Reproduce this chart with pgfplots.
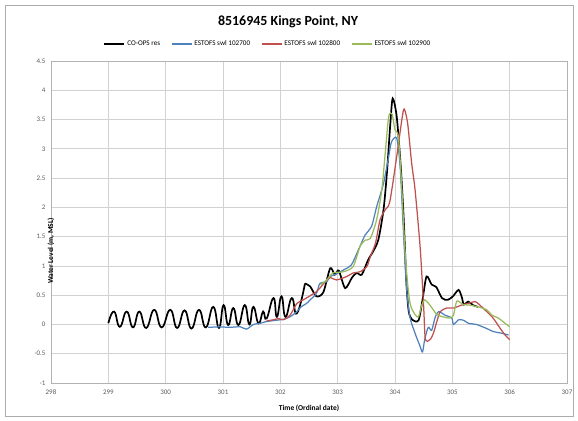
\documentclass[border=0pt]{standalone}
\usepackage{fontspec}
\setmainfont{Carlito}
\usepackage{pgfplots}
\pgfplotsset{compat=1.18}
\definecolor{xlblue}{HTML}{4F81BD}
\definecolor{xlred}{HTML}{C0504D}
\definecolor{xlgreen}{HTML}{9BBB59}
\definecolor{ticktext}{HTML}{595959}
\begin{document}
\begin{tikzpicture}
\path (-51bp,-38bp) rectangle (527bp,383bp);
\draw[gray!65, line width=0.8bp] (-46bp,-33bp) rectangle (522bp,378bp);
\begin{axis}[
  scale only axis, width=516bp, height=322bp,
  xmin=298, xmax=307, ymin=-1, ymax=4.5,
  xtick={298,299,300,301,302,303,304,305,306,307},
  ytick={-1,-0.5,0,0.5,1,1.5,2,2.5,3,3.5,4,4.5},
  grid=major, major grid style={gray!35, line width=0.7bp},
  axis line style={gray!60, line width=0.7bp},
  tick style={draw=none},
  /pgf/number format/assume math mode=true,
  ticklabel style={font=\fontsize{7}{8}\selectfont, text=ticktext},
  yticklabel style={/pgf/number format/fixed, xshift=-2bp},
  xticklabel style={yshift=-3bp},
  xlabel={Time (Ordinal date)},
  ylabel={Water Level (m, MSL)},
  xlabel style={font=\bfseries\fontsize{7.5}{9}\selectfont, at={(axis description cs:0.5,0)}, anchor=center, yshift=-25bp},
  ylabel style={font=\bfseries\fontsize{7.5}{9}\selectfont, at={(axis description cs:0,0.5)}, anchor=center, xshift=-29bp},
  legend columns=4,
  legend style={draw=none, fill=none, at={(0.4205,1.0528)}, anchor=center,
    font=\fontsize{7.2}{8}\selectfont,
    /tikz/every even column/.append style={column sep=9bp}},
  legend image code/.code={\draw[#1] (0bp,0bp) -- (20bp,0bp);},
  every axis plot/.append style={smooth, tension=0.45},
]
\addplot[black, line width=1.7pt, tension=0.85, forget plot] coordinates {
(299.00,0.02) (299.10,0.22) (299.20,-0.04) (299.32,0.22) (299.43,-0.05)
(299.54,0.22) (299.66,-0.06) (299.80,0.25) (299.93,-0.05) (300.08,0.25)
(300.20,-0.06) (300.33,0.24) (300.45,-0.07) (300.58,0.25) (300.70,-0.05)
(300.83,0.30) (300.93,-0.06) (301.01,0.33) (301.09,-0.01) (301.18,0.28)
(301.27,-0.01) (301.38,0.33) (301.46,0.00) (301.53,0.30) (301.62,0.02)
(301.70,0.22) (301.76,0.10) (301.88,0.45) (301.94,0.13) (302.02,0.48)
(302.09,0.13) (302.20,0.45) (302.29,0.19) (302.43,0.70)
};
\addplot[black, line width=1.7pt] coordinates {
(302.43,0.70) (302.52,0.65)
(302.63,0.48) (302.75,0.55) (302.87,0.96) (302.95,0.85) (303.02,0.92)
(303.13,0.62) (303.25,0.80) (303.33,0.88) (303.42,0.85) (303.53,1.10)
(303.62,1.25) (303.71,1.45) (303.80,1.96) (303.86,2.60) (303.92,3.45)
(303.96,3.86) (304.03,3.55) (304.10,2.70) (304.15,1.84) (304.20,0.70)
(304.24,0.22) (304.30,0.08) (304.41,0.07) (304.48,0.42) (304.55,0.82)
(304.64,0.68) (304.72,0.64) (304.82,0.45) (304.92,0.42) (305.01,0.48)
(305.11,0.59) (305.17,0.45) (305.20,0.34) (305.28,0.39) (305.36,0.33)
(305.45,0.30)
};
\addlegendentry{CO-OPS res}
\addplot[xlblue, line width=1.25pt] coordinates {
(300.74,-0.05) (300.95,-0.04) (301.10,-0.05) (301.30,-0.04) (301.41,-0.08)
(301.53,0.00) (301.65,0.02) (301.76,0.05) (302.00,0.08) (302.10,0.10)
(302.20,0.15) (302.29,0.22) (302.36,0.30) (302.46,0.36) (302.52,0.42)
(302.63,0.53) (302.69,0.70) (302.81,0.73) (302.87,0.82) (302.95,0.85)
(303.10,0.93) (303.24,1.02) (303.36,1.27) (303.48,1.53) (303.59,1.67)
(303.68,2.01) (303.80,2.41) (303.89,2.87) (303.94,3.12) (304.03,3.18)
(304.09,2.70) (304.14,1.73) (304.20,0.65) (304.26,0.13) (304.35,-0.15)
(304.44,-0.38) (304.48,-0.47) (304.52,-0.25) (304.58,-0.05) (304.64,-0.10)
(304.70,0.12) (304.76,0.22) (304.87,0.16) (304.99,0.11) (305.02,0.00)
(305.11,0.08) (305.20,0.07) (305.28,0.02) (305.42,0.00) (305.60,-0.07)
(305.71,-0.12) (305.86,-0.15) (305.98,-0.18)
};
\addlegendentry{ESTOFS swl 102700}
\addplot[xlred, line width=1.25pt] coordinates {
(301.76,0.06) (301.88,0.08) (301.97,0.10) (302.05,0.08) (302.17,0.16)
(302.29,0.36) (302.40,0.42) (302.52,0.49) (302.63,0.56) (302.69,0.62)
(302.80,0.75) (302.87,0.80) (302.98,0.76) (303.16,0.82) (303.27,0.88)
(303.39,0.90) (303.51,0.99) (303.57,1.16) (303.66,1.39) (303.74,1.79)
(303.83,1.96) (303.91,2.10) (304.03,2.87) (304.12,3.50) (304.16,3.68)
(304.22,3.44) (304.29,2.76) (304.35,2.30) (304.44,1.30) (304.50,0.30)
(304.53,-0.25) (304.61,-0.26) (304.67,-0.15) (304.73,0.05) (304.79,0.22)
(304.90,0.28) (305.02,0.28) (305.16,0.33) (305.28,0.36) (305.40,0.39)
(305.48,0.33) (305.60,0.22) (305.71,0.11) (305.83,-0.06) (305.92,-0.18)
(306.00,-0.26)
};
\addlegendentry{ESTOFS swl 102800}
\addplot[xlgreen, line width=1.25pt] coordinates {
(302.70,0.68) (302.80,0.75) (302.92,0.88) (303.10,0.90) (303.27,0.99)
(303.39,1.33) (303.48,1.44) (303.57,1.47) (303.68,1.79) (303.77,2.30)
(303.83,2.93) (303.89,3.55) (303.95,3.59) (304.00,3.32) (304.06,3.20)
(304.12,2.30) (304.17,1.33) (304.22,0.70) (304.27,0.33) (304.35,0.17)
(304.41,0.13) (304.47,0.34) (304.52,0.42) (304.61,0.33) (304.73,0.17)
(304.84,0.13) (304.96,0.11) (305.02,0.16) (305.08,0.40) (305.19,0.34)
(305.31,0.33) (305.45,0.30) (305.60,0.25) (305.69,0.16) (305.80,0.11)
(305.92,0.02) (306.00,-0.04)
};
\addlegendentry{ESTOFS swl 102900}
\end{axis}
\node[font=\bfseries\fontsize{14}{16}\selectfont] at (237bp,361bp) {8516945 Kings Point, NY};
\end{tikzpicture}
\end{document}
